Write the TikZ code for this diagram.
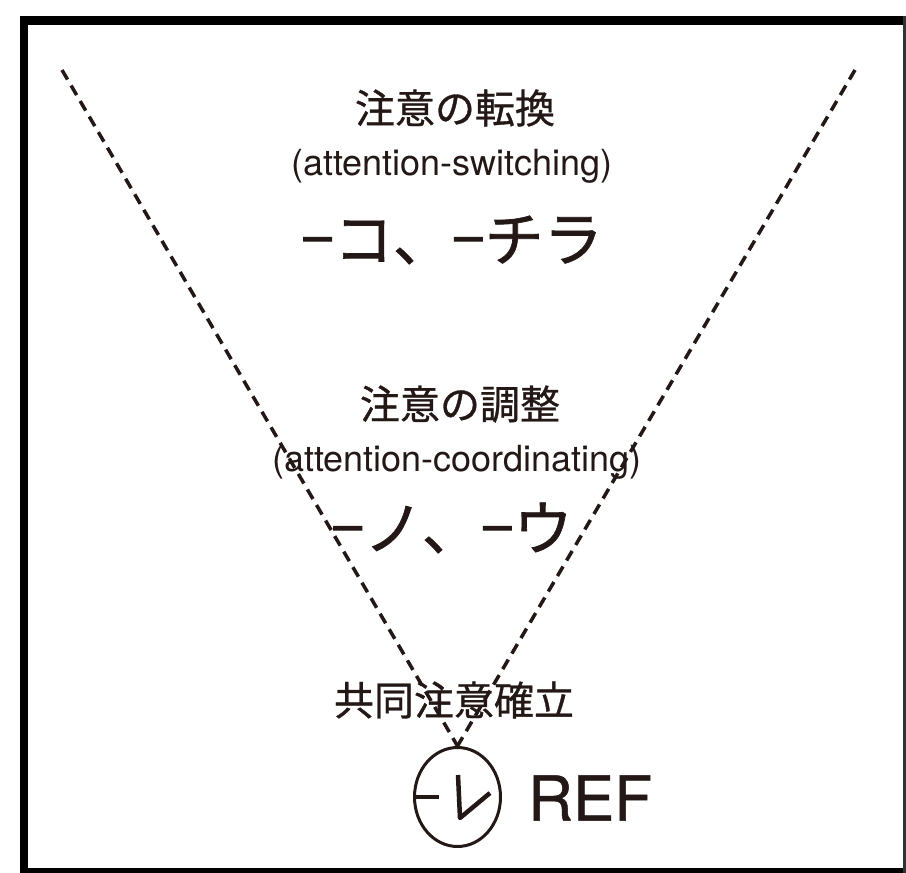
\documentclass[tikz,border=0pt]{standalone}
\usepackage{fontspec}
\setmainfont{TeX Gyre Heros}
\newfontfamily\reffont[FakeBold=0.8]{TeX Gyre Heros}
\newfontfamily\jp[FakeBold=0.8]{Noto Sans CJK JP}
\newfontfamily\jpk[FakeBold=1.2]{Noto Sans CJK JP}
\usetikzlibrary{shapes.geometric}
\definecolor{ink}{RGB}{35,24,21}
\tikzset{
  jlabel/.style={font=\jp\fontsize{40}{44}\selectfont, text=ink, inner sep=0pt},
  elabel/.style={font=\fontsize{36}{40}\selectfont, text=ink, inner sep=0pt},
  klabel/.style={font=\jpk\fontsize{59}{63}\selectfont, text=ink, inner sep=0pt},
  guide/.style={dash pattern=on 11pt off 7pt, line width=3.5pt, ink},
}
\begin{document}
\begin{tikzpicture}[x=1pt,y=-1pt]
\useasboundingbox (0,0) rectangle (906,873);
% frame
\fill[black] (20,16) rectangle (906,25);
\fill[black] (20,16) rectangle (28,873);
\fill[black] (20,868) rectangle (906,873);
\fill[black!80] (903,16) rectangle (906,873);
% clock circle
\node[draw=ink, ellipse, line width=3pt, minimum width=86pt, minimum height=99pt, inner sep=0pt] (refc) at (457.5,797) {};
\coordinate (tl) at (62,70);
\coordinate (tr) at (855,70);
\draw[guide] (tl) -- (refc.north);
\draw[guide] (tr) -- (refc.north);
\draw[line width=4pt, ink] (refc.west) -- ++(26,0);
\draw[line width=4.5pt, ink, line join=round] (458,775) -- (460,818) -- (490,793);
% texts
\node[jlabel] (t1) at (455,108) {注意の転換};
\node[elabel] (e1) at (452,166) {(attention-switching)};
\node[klabel] (k1) at (452,240) {−コ、−チラ};
\node[jlabel] (t2) at (460,404) {注意の調整};
\node[elabel] (e2) at (457,462) {(attention-coordinating)};
\node[klabel] (k2) at (452,528) {−ノ、−ウ};
\node[jlabel] (t3) at (454,700) {共同注意確立};
\node[font=\reffont\fontsize{62}{66}\selectfont, text=ink, inner sep=0pt, anchor=west] (ref) at (528,798) {REF};
\end{tikzpicture}
\end{document}
